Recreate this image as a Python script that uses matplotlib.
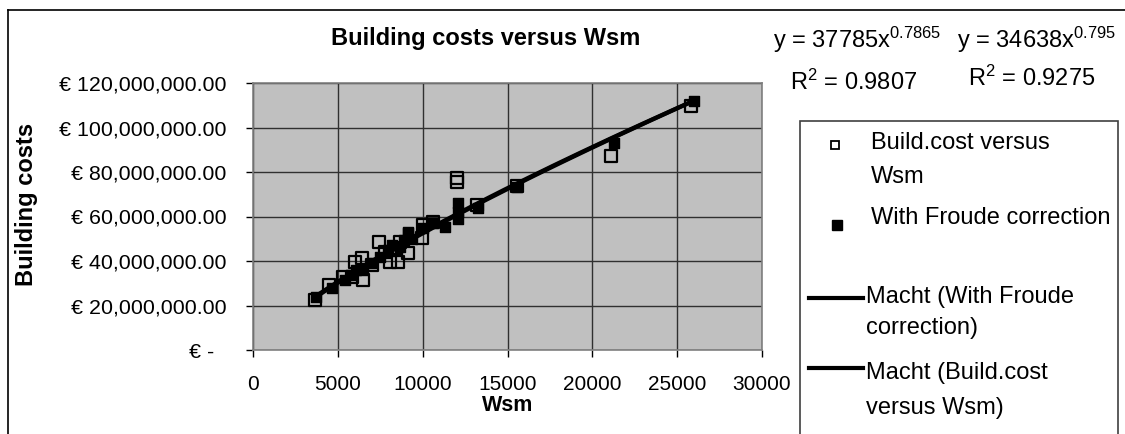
import numpy as np
import matplotlib
matplotlib.use("Agg")
import matplotlib.pyplot as plt
from matplotlib.lines import Line2D
from matplotlib.patches import Rectangle
from matplotlib.ticker import FuncFormatter

plt.rcParams['font.family'] = ['Liberation Sans', 'DejaVu Sans']
plt.rcParams['mathtext.fontset'] = 'custom'
plt.rcParams['mathtext.rm'] = 'Liberation Sans'
plt.rcParams['mathtext.it'] = 'Liberation Sans'

# Wsm and building cost (million EUR) - plain data
wsm_cost = [3660, 4490, 5320, 5810, 6000, 6400, 6490, 7000, 7420, 7800, 8070, 8400,
            8560, 8660, 9150, 9940, 10040, 10630, 12010, 12010, 13190, 15550, 21100, 25820]
cost = [22.5, 29.2, 33.0, 33.0, 39.7, 41.2, 31.5, 38.0, 48.7, 44.0, 39.7, 46.0,
        39.7, 48.7, 43.5, 50.2, 56.0, 57.7, 75.5, 77.2, 65.2, 73.5, 87.2, 109.7]

# Wsm and building cost with Froude correction
wsm_froude = [3740, 4630, 5410, 5800, 6100, 6480, 6990, 7500, 7970, 8200, 8660, 8900,
              9150, 9150, 9400, 10040, 10630, 11320, 12100, 12100, 12100, 13280, 15550, 21250, 25980]
cost_froude = [24.0, 27.7, 31.5, 33.5, 36.0, 36.0, 39.0, 42.0, 45.0, 47.0, 46.4, 49.5,
               52.4, 53.2, 50.0, 54.7, 57.0, 55.4, 66.0, 62.0, 59.0, 63.7, 73.4, 92.9, 112.0]

# power trendlines as printed on the chart
a_froude, b_froude = 37785, 0.7865
a_cost, b_cost = 34638, 0.795

cost = np.array(cost) * 1e6
cost_froude = np.array(cost_froude) * 1e6

fig = plt.figure(figsize=(11.25, 4.34), dpi=100)
W, H = 1125, 434

def fx(px):
    return px / W

def fy(py):
    return 1 - py / H

ax = fig.add_axes([fx(253), fy(350), fx(762 - 253), (350 - 83) / H])
ax.set_facecolor('#c0c0c0')

ax.scatter(wsm_cost, cost, marker='s', s=75, facecolors='none', edgecolors='black',
           linewidths=1.6, zorder=3)
ax.scatter(wsm_froude, cost_froude, marker='s', s=55, color='black', zorder=4)

xs = np.linspace(min(wsm_cost), max(wsm_froude), 200)
ax.plot(xs, a_froude * xs ** b_froude, color='black', lw=3, zorder=5)
ax.plot(xs, a_cost * xs ** b_cost, color='black', lw=3, zorder=5)

ax.set_xlim(0, 30000)
ax.set_ylim(0, 120e6)
ax.set_xticks(np.arange(0, 30001, 5000))
ax.set_yticks(np.arange(0, 120e6 + 1, 20e6))

def euro(v, pos):
    if v == 0:
        return '€ -  '
    return '€ {:,.2f}'.format(v)

ax.yaxis.set_major_formatter(FuncFormatter(euro))
ax.grid(True, color='#303030', lw=1.0)
ax.set_axisbelow(True)
for s in ax.spines.values():
    s.set_color('#808080')
    s.set_linewidth(1.2)
ax.tick_params(axis='y', direction='out', length=5, width=1, pad=14, labelsize=15.4, colors='black')
ax.tick_params(axis='x', direction='out', length=5, width=1, pad=13, labelsize=15, colors='black')

ax.set_xlabel('Wsm', fontsize=15.5, fontweight='bold', labelpad=1)
fig.text(fx(27), fy(204), 'Building costs', rotation=90, fontsize=17, fontweight='bold',
         ha='center', va='center')
fig.text(fx(486), fy(38), 'Building costs versus Wsm', fontsize=17, fontweight='bold',
         ha='center', va='center')

# trendline equations
fig.text(fx(773), fy(40), r'y = 37785x$^{\mathregular{0.7865}}$', fontsize=17, ha='left', va='center')
fig.text(fx(957), fy(40), r'y = 34638x$^{\mathregular{0.795}}$', fontsize=17, ha='left', va='center')
fig.text(fx(790), fy(82), r'R$^{\mathregular{2}}$ = 0.9807', fontsize=17, ha='left', va='center')
fig.text(fx(968), fy(78), r'R$^{\mathregular{2}}$ = 0.9275', fontsize=17, ha='left', va='center')

# outer chart border (top and left visible)
fig.add_artist(Line2D([fx(8), 1], [fy(10), fy(10)], color='black', lw=1.2))
fig.add_artist(Line2D([fx(8), fx(8)], [fy(10), 0], color='black', lw=1.2))

# legend box, cut off at the bottom like the original
fig.add_artist(Rectangle((fx(800), fy(470)), fx(1118 - 800), (470 - 121) / H,
                         transform=fig.transFigure, facecolor='white', edgecolor='#404040', lw=1.2))
fig.add_artist(Line2D([fx(835)], [fy(145)], marker='s', ms=6, mfc='white', mec='black', mew=1.3))
fig.text(fx(871), fy(143), 'Build.cost versus', fontsize=17, va='center')
fig.text(fx(871), fy(177), 'Wsm', fontsize=17, va='center')
fig.add_artist(Line2D([fx(837)], [fy(225)], marker='s', ms=7, color='black'))
fig.text(fx(871), fy(218), 'With Froude correction', fontsize=17, va='center')
fig.add_artist(Line2D([fx(809), fx(863)], [fy(298), fy(298)], color='black', lw=3))
fig.text(fx(866), fy(297), 'Macht (With Froude', fontsize=17, va='center')
fig.text(fx(866), fy(328), 'correction)', fontsize=17, va='center')
fig.add_artist(Line2D([fx(809), fx(863)], [fy(368), fy(368)], color='black', lw=3))
fig.text(fx(866), fy(373), 'Macht (Build.cost', fontsize=17, va='center')
fig.text(fx(866), fy(408), 'versus Wsm)', fontsize=17, va='center')

fig.savefig('out.png', dpi=100)
